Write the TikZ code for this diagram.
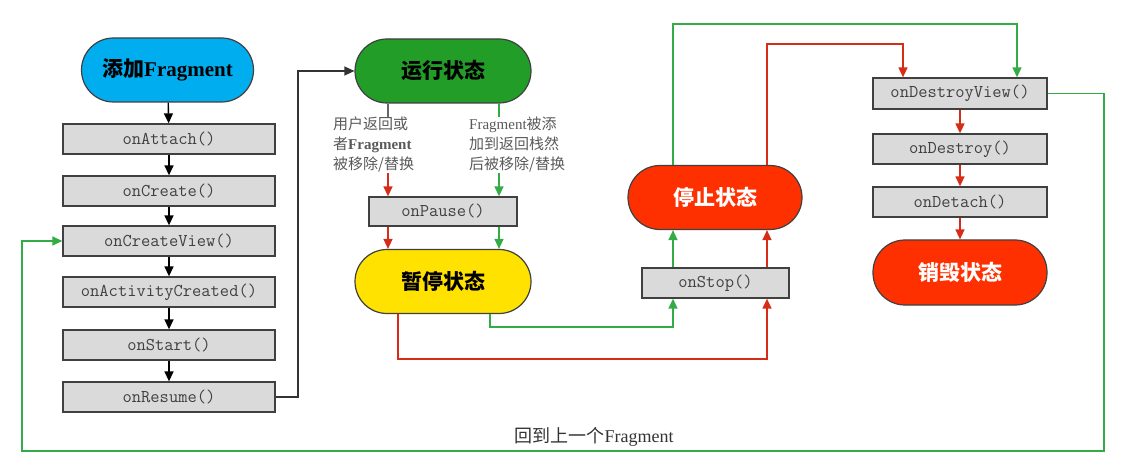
\documentclass[tikz,border=0pt]{standalone}
\usepackage{fontspec}
\setmainfont{Liberation Serif}
\newfontfamily\cjk{Noto Sans CJK SC}
\usetikzlibrary{arrows.meta}
\definecolor{fragblue}{RGB}{0,174,239}
\definecolor{rungreen}{RGB}{34,158,40}
\definecolor{pauseyellow}{RGB}{255,226,0}
\definecolor{stopred}{RGB}{255,48,0}
\definecolor{boxgray}{RGB}{218,218,218}
\definecolor{linegreen}{RGB}{52,172,70}
\definecolor{linered}{RGB}{214,44,24}

\begin{document}
\begin{tikzpicture}[x=1pt,y=-1pt,
    callback/.style={draw=black!75,fill=boxgray,line width=1.3pt,
      minimum width=212pt,minimum height=30pt,inner sep=0pt,
      font=\ttfamily\fontsize{18}{20}\selectfont,text=black!75},
    status/.style={draw=black!75,line width=1.2pt,rounded corners=32pt,
      minimum width=174pt,minimum height=64pt,inner sep=0pt,
      font=\cjk\bfseries\fontsize{21}{24}\selectfont},
    note/.style={anchor=north west,align=left,inner sep=0pt,text=black!65,
      font=\cjk\fontsize{15}{20}\selectfont},
    flow/.style={-{Triangle[length=10pt,width=9pt]},line width=1.4pt}]
    \useasboundingbox (0,0) rectangle (1125,465);

    % adding the fragment
    \node[status,fill=fragblue,minimum width=172pt] (add) at (167.5,70)
      {添加\textrm{Fragment}};
    \node[callback] (attach) at (169,139) {onAttach()};
    \node[callback] (create) at (169,191) {onCreate()};
    \node[callback] (cview) at (169,241) {onCreateView()};
    \node[callback] (actcreated) at (169,292) {onActivityCreated()};
    \node[callback] (start) at (169,345) {onStart()};
    \node[callback] (resume) at (169,397) {onResume()};
    \foreach \a/\b in {add/attach,attach/create,create/cview,cview/actcreated,
        actcreated/start,start/resume}
      \draw[flow,black] (\a) -- (\b);

    % running and paused
    \node[status,fill=rungreen,minimum width=176pt] (run) at (443,71) {运行状态};
    \node[callback,minimum width=148pt,minimum height=29pt] (pause) at (443,211.5)
      {onPause()};
    \node[status,fill=pauseyellow,minimum width=176pt] (paused) at (443,281.5)
      {暂停状态};
    \node[note] (noteleft) at (333,117)
      {用户返回或\\者\textrm{\bfseries Fragment}\\被移除/替换};
    \node[note] (noteright) at (469,117)
      {\textrm{Fragment}被添\\加到返回栈然\\后被移除/替换};
    \coordinate (rx) at (388,0);
    \coordinate (gx) at (499,0);
    \draw[black!60,line width=1.4pt] (run.south -| rx) -- (noteleft.north -| rx);
    \draw[linegreen,line width=1.4pt] (run.south -| gx) -- (noteright.north -| gx);
    \draw[flow,linered] (noteleft.south -| rx) -- (pause.north -| rx);
    \draw[flow,linegreen] (noteright.south -| gx) -- (pause.north -| gx);
    \draw[flow,linered] (pause.south -| rx) -- (paused.north -| rx);
    \draw[flow,linegreen] (pause.south -| gx) -- (paused.north -| gx);

    \coordinate (bx) at (298,0);
    \draw[flow,black!80] (resume.east) -- (resume.east -| bx) |- (run.west);

    % stopped
    \node[callback,minimum width=147pt] (stop) at (715.5,283) {onStop()};
    \node[status,fill=stopred,text=white] (stopped) at (715,197.5) {停止状态};
    \coordinate (sg) at (673,0);
    \coordinate (sr) at (767,0);
    \coordinate (pg) at (490,327);
    \coordinate (pr) at (398,359);
    \draw[flow,linegreen] (paused.south -| pg) -- (pg) -| (stop.south -| sg);
    \draw[flow,linered] (paused.south -| pr) -- (pr) -| (stop.south -| sr);
    \draw[flow,linegreen] (stop.north -| sg) -- (stopped.south -| sg);
    \draw[flow,linered] (stop.north -| sr) -- (stopped.south -| sr);

    % destroying
    \node[callback,minimum width=174pt,minimum height=31pt] (dview) at (960,93.5)
      {onDestroyView()};
    \node[callback,minimum width=174pt] (destroy) at (960,149) {onDestroy()};
    \node[callback,minimum width=174pt] (detach) at (960,202) {onDetach()};
    \node[status,fill=stopred,text=white,minimum height=65pt] (destroyed)
      at (960,272.5) {销毁状态};
    \foreach \a/\b in {dview/destroy,destroy/detach,detach/destroyed}
      \draw[flow,linered] (\a) -- (\b);
    \coordinate (tg) at (1017,24);
    \coordinate (tr) at (903,44);
    \draw[flow,linegreen] (stopped.north -| sg) |- (tg) -- (tg |- dview.north);
    \draw[flow,linered] (stopped.north -| sr) |- (tr) -- (tr |- dview.north);

    % back to the previous fragment
    \coordinate (backr) at (1104,451);
    \coordinate (backl) at (22,451);
    \draw[flow,linegreen] (dview.east) -| (backr) -- (backl) |- (cview.west);
    \node[font=\fontsize{18}{20}\selectfont,text=black!80] (backtext) at (594,437)
      {{\cjk 回到上一个}Fragment};
\end{tikzpicture}
\end{document}
